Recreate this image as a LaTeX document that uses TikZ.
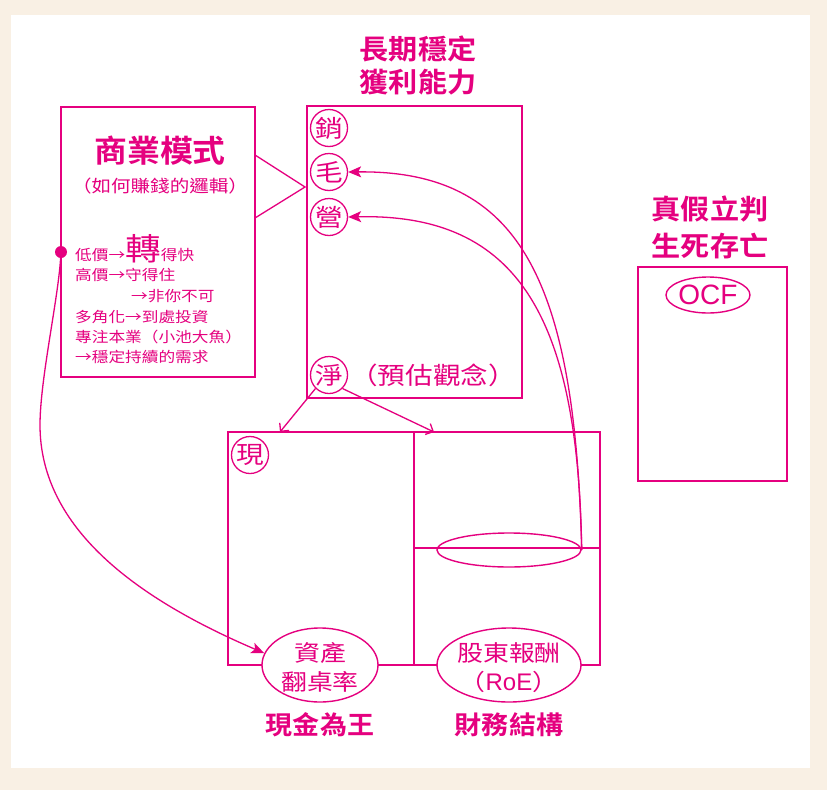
\documentclass[tikz,border=0pt]{standalone}
\usepackage{fontspec}
\usepackage{tikz}
\usetikzlibrary{
  positioning,
  arrows.meta,
  shapes.geometric
}
\setmainfont{Noto Sans CJK TC}
\newfontfamily\cjk{Noto Sans CJK TC}[FakeStretch=1.15]
\newfontfamily\cjkb{Noto Sans CJK TC Bold}[FakeStretch=1.06]
\newfontfamily\lat{Liberation Sans}
\usepackage{xcolor}
\definecolor{rose}{HTML}{E5007F}
\definecolor{paper}{HTML}{F9F0E4}
\newcommand{\fsz}[1]{\fontsize{#1}{#1}\selectfont}

\begin{document}
\begin{tikzpicture}[x=1pt, y=-1pt,
  frame/.style={draw=rose, line width=1.8pt},
  ttl/.style={text=rose, align=center, inner sep=0pt},
  circ/.style={circle, draw=rose, line width=1.3pt, minimum size=37pt, inner sep=0pt, text=rose, font=\cjk\fsz{24}},
  oval/.style={ellipse, draw=rose, line width=1.4pt, inner sep=0pt},
  txt/.style={text=rose, font=\cjk\fsz{14.5}, anchor=base west, inner sep=0pt},
  link/.style={draw=rose, line width=1.3pt},
  fillhead/.style={-{Stealth[length=13pt, width=11pt, inset=3pt]}},
  openhead/.style={-{Straight Barb[length=6pt, width=12pt]}}
]
  \fill[paper] (0,0) rectangle (827,790);
  \fill[white] (11,15) rectangle (810,768);

  \node[ttl, font=\cjkb\fontsize{27.5}{33}\selectfont] (tstable) at (418,65) {長期穩定\\獲利能力};
  \node[ttl, font=\cjkb\fontsize{27.5}{37}\selectfont] (tlife) at (710,227) {真假立判\\生死存亡};

  \draw[frame] (61,107) rectangle (255,377);
  \draw[frame] (307,106) rectangle (522,398);
  \draw[frame] (638,267) rectangle (787,481);
  \draw[frame] (228,432) rectangle (414,665);
  \draw[frame] (414,432) rectangle (600,665);
  \draw[frame] (414,548) -- (600,548);
  \draw[link] (255,155) -- (305,187) -- (255,218);

  \node[ttl, font=\cjkb\fsz{31}] (biz) at (160,151) {商業模式};
  \node[ttl, font=\cjk\fsz{17}] (bizsub) at (160,186) {（如何賺錢的邏輯）};
  \node[circle, fill=rose, minimum size=12pt, inner sep=0pt] (dot) at (61,252) {};
  \node[txt] (l1) at (75,260) {低價→{\fsz{31}轉}得快};
  \node[txt] (l2) at (75,280) {高價→守得住};
  \node[txt] (l3) at (131,301) {→非你不可};
  \node[txt] (l4) at (75,322) {多角化→到處投資};
  \node[txt] (l5) at (75,342) {專注本業（小池大魚）};
  \node[txt] (l6) at (75,362) {→穩定持續的需求};

  \node[circ] (xiao) at (329,128) {銷};
  \node[circ] (mao) at (329,172) {毛};
  \node[circ] (ying) at (329,217) {營};
  \node[circ] (jing) at (329,375) {淨};
  \node[ttl, font=\cjk\fsz{24}, anchor=west] (guess) at (350,375) {（預估觀念）};
  \node[circ] (xian) at (250,455) {現};

  \coordinate (cashtop) at (280,432);
  \coordinate (fintop) at (434,432);
  \draw[link, openhead] (jing.south west) -- (cashtop);
  \draw[link, openhead] (jing.-45) -- (fintop);

  \node[oval, minimum width=144pt, minimum height=34pt] (key) at (509,550) {};
  \node[oval, fill=white, minimum width=116pt, minimum height=74pt] (zich) at (320,665) {};
  \node[oval, fill=white, minimum width=144pt, minimum height=74pt] (roe) at (509,665) {};
  \node[ttl, font=\cjk\fontsize{22.5}{29}\selectfont] (zichtxt) at (320,667.5) {資產\\翻桌率};
  \node[ttl, font=\cjk\fontsize{22.5}{29}\selectfont] (roetxt) at (509,667.5) {股東報酬\\（{\lat\fsz{24}RoE}）};
  \node[oval, minimum width=84pt, minimum height=36pt, text=rose, font=\lat\fsz{28}] (ocf) at (708,295) {OCF};

  \node[ttl, font=\cjkb\fsz{25.5}] (cashk) at (320,725) {現金為王};
  \node[ttl, font=\cjkb\fsz{25.5}] (finstr) at (509,725) {財務結構};

  \draw[link, fillhead] (key.east) .. controls (575,280) and (520,170) .. (mao.east);
  \draw[link, fillhead] (key.east) .. controls (578,320) and (520,213) .. (ying.east);
  \coordinate (bend) at (40,425);
  \draw[link, fillhead] (dot) .. controls (58,300) and (40,380) .. (bend) .. controls (40,530) and (140,600) .. (zich.168);
\end{tikzpicture}
\end{document}
